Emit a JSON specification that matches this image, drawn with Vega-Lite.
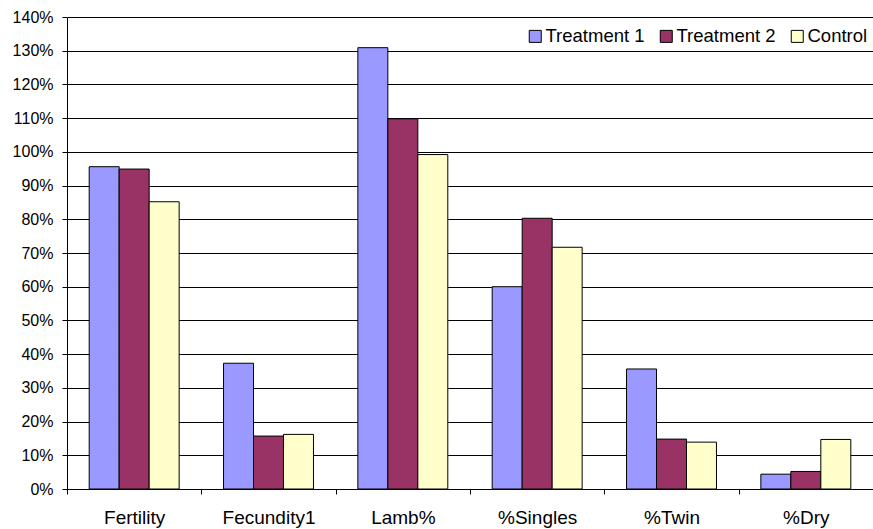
{
  "$schema": "https://vega.github.io/schema/vega-lite/v6.json",
  "autosize": {"type": "none"},
  "padding": {"left": 67, "top": 17, "right": 0, "bottom": 40},
  "width": 806,
  "height": 472,
  "background": "white",
  "config": {
    "font": "Liberation Sans",
    "view": {"stroke": null}
  },
  "data": {
    "values": [
      {"measure": "Fertility", "group": "Treatment 1", "value": 95.6},
      {"measure": "Fertility", "group": "Treatment 2", "value": 94.9},
      {"measure": "Fertility", "group": "Control", "value": 85.2},
      {"measure": "Fecundity1", "group": "Treatment 1", "value": 37.3},
      {"measure": "Fecundity1", "group": "Treatment 2", "value": 15.7},
      {"measure": "Fecundity1", "group": "Control", "value": 16.2},
      {"measure": "Lamb%", "group": "Treatment 1", "value": 130.9},
      {"measure": "Lamb%", "group": "Treatment 2", "value": 109.8},
      {"measure": "Lamb%", "group": "Control", "value": 99.2},
      {"measure": "%Singles", "group": "Treatment 1", "value": 60.0},
      {"measure": "%Singles", "group": "Treatment 2", "value": 80.3},
      {"measure": "%Singles", "group": "Control", "value": 71.7},
      {"measure": "%Twin", "group": "Treatment 1", "value": 35.6},
      {"measure": "%Twin", "group": "Treatment 2", "value": 14.8},
      {"measure": "%Twin", "group": "Control", "value": 13.9},
      {"measure": "%Dry", "group": "Treatment 1", "value": 4.4},
      {"measure": "%Dry", "group": "Treatment 2", "value": 5.2},
      {"measure": "%Dry", "group": "Control", "value": 14.7}
    ]
  },
  "mark": {"type": "bar", "stroke": "#000000", "strokeWidth": 1},
  "encoding": {
    "x": {
      "field": "measure",
      "type": "nominal",
      "sort": ["Fertility", "Fecundity1", "Lamb%", "%Singles", "%Twin", "%Dry"],
      "scale": {"paddingInner": 0, "paddingOuter": 0},
      "axis": {
        "title": null,
        "labelAngle": 0,
        "labelFontSize": 19,
        "labelColor": "#000000",
        "labelPadding": 14,
        "tickBand": "extent",
        "tickSize": 5,
        "tickColor": "#000000",
        "domainColor": "#000000",
        "grid": false
      }
    },
    "xOffset": {
      "field": "group",
      "type": "nominal",
      "sort": ["Treatment 1", "Treatment 2", "Control"],
      "scale": {"paddingInner": 0, "paddingOuter": 0.74}
    },
    "y": {
      "field": "value",
      "type": "quantitative",
      "scale": {"domain": [0, 140], "nice": false},
      "axis": {
        "title": null,
        "values": [0, 10, 20, 30, 40, 50, 60, 70, 80, 90, 100, 110, 120, 130, 140],
        "labelExpr": "datum.value + '%'",
        "labelFontSize": 16,
        "labelColor": "#000000",
        "labelPadding": 9,
        "tickSize": 5,
        "tickColor": "#000000",
        "domainColor": "#000000",
        "gridColor": "#000000",
        "gridOpacity": 1
      }
    },
    "color": {
      "field": "group",
      "type": "nominal",
      "sort": ["Treatment 1", "Treatment 2", "Control"],
      "scale": {
        "domain": ["Treatment 1", "Treatment 2", "Control"],
        "range": ["#9999FF", "#993366", "#FFFFCC"]
      },
      "legend": {
        "title": null,
        "orient": "none",
        "direction": "horizontal",
        "legendX": 459,
        "legendY": 10,
        "symbolType": "square",
        "symbolSize": 144,
        "symbolStrokeColor": "#000000",
        "symbolStrokeWidth": 1,
        "symbolOpacity": 1,
        "labelFontSize": 18.5,
        "labelColor": "#000000",
        "labelOffset": 1,
        "columnPadding": 12
      }
    }
  }
}
